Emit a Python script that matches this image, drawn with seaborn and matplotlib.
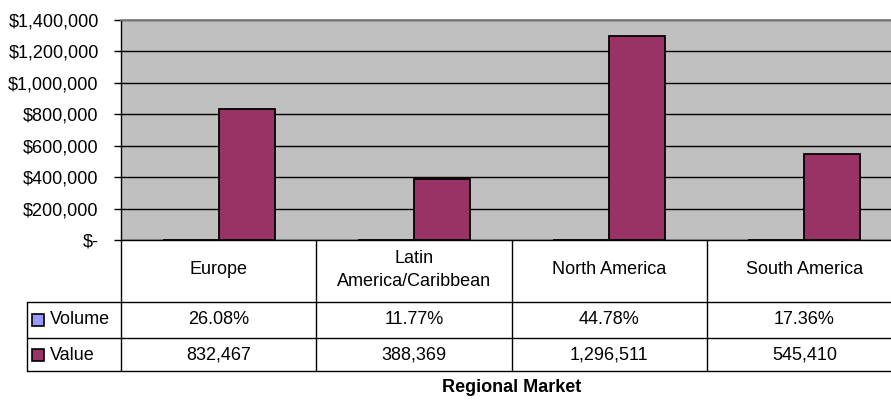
import pandas as pd
import seaborn as sns
import matplotlib.pyplot as plt
from matplotlib.transforms import blended_transform_factory
from matplotlib.ticker import FuncFormatter

regions = ['Europe', 'Latin\nAmerica/Caribbean', 'North America', 'South America']
series = ['Volume', 'Value']
volume = [0.2608, 0.1177, 0.4478, 0.1736]
value = [832467, 388369, 1296511, 545410]
colors = ['#9999FF', '#993366']

W, H = 891, 403
FS = 13

sns.set_style('white')
plt.rcParams['font.family'] = ['Liberation Sans', 'DejaVu Sans']
plt.rcParams['text.color'] = 'black'

df = pd.DataFrame({
    'region': regions * 2,
    'series': ['Volume'] * 4 + ['Value'] * 4,
    'amount': volume + value,
})

fig = plt.figure(figsize=(W / 100, H / 100), dpi=100)
# plot area in pixels: x 121..902 (cropped at right), y 20..240
ax = fig.add_axes([121 / W, (H - 240) / H, 781 / W, 220 / H])
ax.set_facecolor('#C0C0C0')

sns.barplot(data=df, x='region', y='amount', hue='series', hue_order=series,
            palette=colors, saturation=1, width=0.574, edgecolor='black',
            linewidth=1.3, legend=False, ax=ax)

ax.set_xlim(-0.5, 3.5)
ax.set_ylim(0, 1400000)
ax.set_yticks(range(0, 1400001, 200000))
ax.yaxis.set_major_formatter(FuncFormatter(lambda v, p: '$-' if v == 0 else f'${v:,.0f}'))
ax.tick_params(axis='y', direction='out', length=5, width=1, color='black',
               pad=11, labelsize=FS, left=True, labelcolor='black')
ax.tick_params(axis='x', length=0, labelbottom=False)
ax.set_xlabel('')
ax.set_ylabel('')
ax.yaxis.grid(True, color='black', linewidth=1)
ax.set_axisbelow(True)
for s in ['left', 'bottom']:
    ax.spines[s].set_color('black')
    ax.spines[s].set_linewidth(1)
ax.spines['top'].set_color('#808080')
ax.spines['top'].set_linewidth(1.3)
ax.spines['right'].set_visible(False)

# data table under the plot (x in data units, y in axes units)
tr = blended_transform_factory(ax.transData, ax.transAxes)
unit = 781 / 4
def ay(py):
    return -(py - 240) / 220

lbl_left = -0.5 - (121 - 27) / unit
for i in range(len(regions) + 1):
    ax.plot([i - 0.5, i - 0.5], [0, ay(371)], color='black', lw=1,
            transform=tr, clip_on=False)
for py in [302, 338, 371]:
    ax.plot([lbl_left, 3.5], [ay(py), ay(py)], color='black', lw=1,
            transform=tr, clip_on=False)
ax.plot([lbl_left, lbl_left], [ay(302), ay(371)], color='black', lw=1,
        transform=tr, clip_on=False)

for i, r in enumerate(regions):
    ax.text(i, ay(270), r, ha='center', va='center', fontsize=FS,
            linespacing=1.4, color='black', transform=tr, clip_on=False)
    ax.text(i, ay(320), f'{volume[i]:.2%}', ha='center', va='center',
            fontsize=FS, color='black', transform=tr, clip_on=False)
    ax.text(i, ay(355), f'{value[i]:,}', ha='center', va='center',
            fontsize=FS, color='black', transform=tr, clip_on=False)

sq_x = -0.5 - (121 - 37.5) / unit
txt_x = -0.5 - (121 - 50) / unit
for name, col, py in zip(series, colors, [320, 355]):
    ax.plot([sq_x], [ay(py)], marker='s', markersize=8, markerfacecolor=col,
            markeredgecolor='black', markeredgewidth=1.2, transform=tr,
            clip_on=False)
    ax.text(txt_x, ay(py), name, ha='left', va='center', fontsize=FS,
            color='black', transform=tr, clip_on=False)

ax.text(1.5, ay(388), 'Regional Market', ha='center', va='center',
        fontsize=FS, fontweight='bold', color='black', transform=tr,
        clip_on=False)

fig.savefig('out.png', dpi=100, facecolor='white')
